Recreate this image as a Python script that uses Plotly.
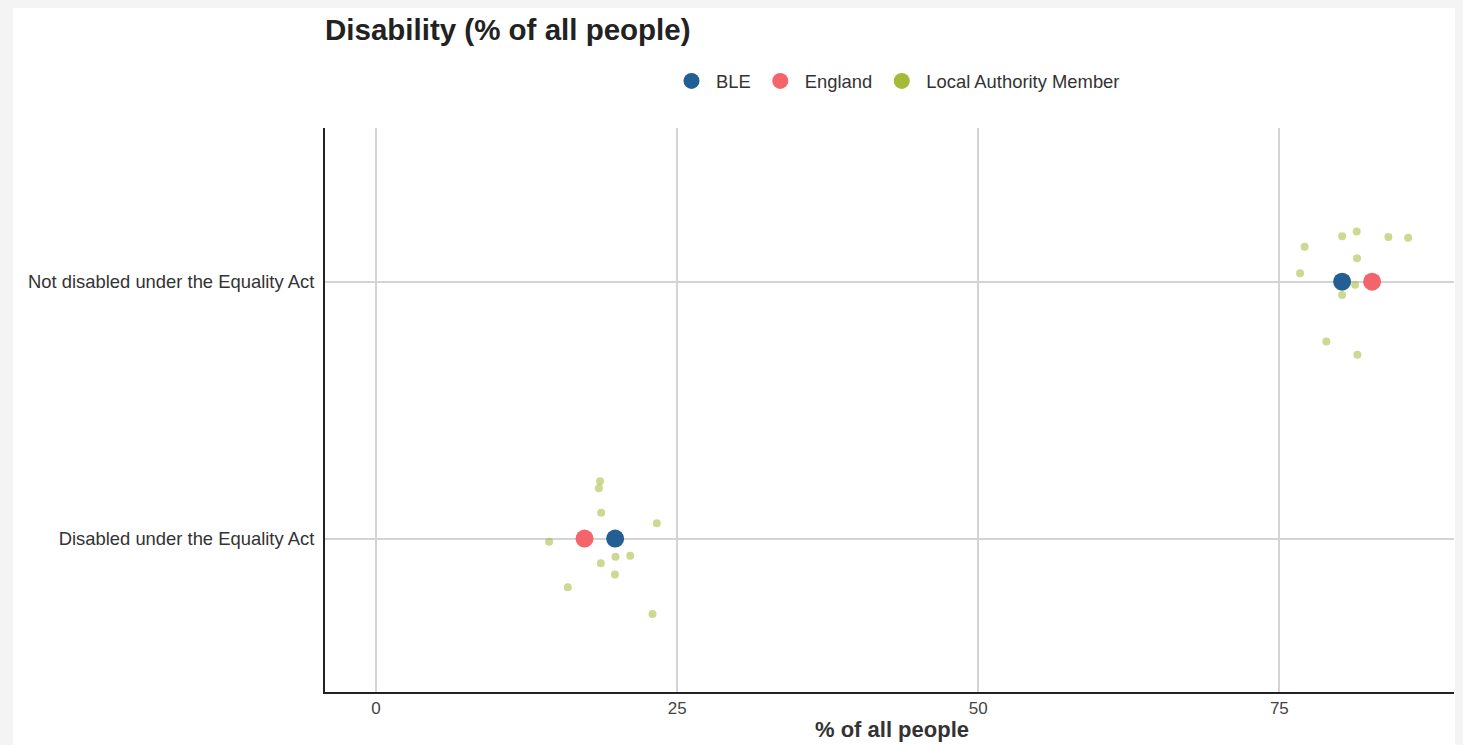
import plotly.graph_objects as go

# Categories (y positions 0 and 1)
categories = ["Disabled under the Equality Act", "Not disabled under the Equality Act"]

# BLE and England values (% of all people), per category
ble_values = [19.85, 80.21]
england_values = [17.31, 82.70]

# Local authority members: values and vertical jitter
la_disabled = [18.60, 18.50, 18.69, 23.31, 14.37, 19.88, 21.10, 18.66, 19.83, 15.92, 22.95]
la_disabled_jitter = [0.223, 0.196, 0.101, 0.060, -0.012, -0.071, -0.067, -0.096, -0.140, -0.189, -0.293]
la_not_disabled = [77.10, 80.21, 81.42, 84.05, 85.69, 81.45, 76.72, 81.29, 80.21, 78.90, 81.48]
la_not_disabled_jitter = [0.136, 0.177, 0.195, 0.174, 0.171, 0.091, 0.033, -0.012, -0.052, -0.233, -0.284]

x_ticks = [0, 25, 50, 75]

BLUE = "#245f93"
RED = "#f4646b"
GREEN = "#a4ba38"

la_x = la_disabled + la_not_disabled
la_y = [0 + j for j in la_disabled_jitter] + [1 + j for j in la_not_disabled_jitter]

W, H = 1447, 737
L, R, T, B = 317, 1, 120, 53
PW, PH = W - L - R, H - T - B

fig = go.Figure()
fig.add_trace(go.Scatter(
    x=la_x, y=la_y, mode="markers", name="Local Authority Member",
    marker=dict(color=GREEN, size=8, opacity=0.55), showlegend=False,
))
fig.add_trace(go.Scatter(
    x=ble_values, y=[0, 1], mode="markers", name="BLE",
    marker=dict(color=BLUE, size=18), legendrank=1,
))
fig.add_trace(go.Scatter(
    x=england_values, y=[0, 1], mode="markers", name="England",
    marker=dict(color=RED, size=18), legendrank=2,
))
# legend-only entry with full-opacity marker
fig.add_trace(go.Scatter(
    x=[None], y=[None], mode="markers", name="Local Authority Member",
    marker=dict(color=GREEN, size=18), legendrank=3,
))

fig.update_layout(
    width=W, height=H,
    margin=dict(l=L, r=R, t=T, b=B),
    paper_bgcolor="#f4f4f4",
    plot_bgcolor="white",
    font=dict(family="Arial, Liberation Sans, sans-serif", color="#333333", size=18.4),
    title=dict(
        text="<b>Disability (% of all people)</b>",
        font=dict(size=29.5, color="#222222"),
        xref="paper", x=0, xanchor="left",
        yref="container", y=1 - 22 / H, yanchor="middle",
    ),
    legend=dict(
        orientation="h", xref="paper", x=(888 - L) / PW, xanchor="center",
        yref="container", y=1 - 73 / H, yanchor="middle",
        font=dict(size=18.4, color="#333333"), bgcolor="rgba(0,0,0,0)",
        traceorder="normal", itemwidth=39,
    ),
    shapes=[dict(
        type="rect", xref="paper", yref="paper", layer="below",
        x0=(5 - L) / PW, x1=1.1, y0=-0.2, y1=(T + PH) / PH,
        fillcolor="white", line=dict(width=0),
    )],
    annotations=[dict(
        text="<b>% of all people</b>", xref="paper", yref="paper",
        x=(884 - L) / PW, y=0, xanchor="center", yanchor="middle", yshift=-37,
        showarrow=False, font=dict(size=22, color="#333333"),
    )],
    showlegend=True,
)

fig.update_xaxes(
    range=[-4.24, 89.5], tickvals=x_ticks, ticktext=[str(t) for t in x_ticks],
    showgrid=True, gridcolor="#d4d4d4", gridwidth=1.5, zeroline=False,
    showline=True, linecolor="#222222", linewidth=2, automargin=False,
    tickfont=dict(size=17, color="#444444"),
)
fig.update_yaxes(
    range=[-0.597, 1.598], tickvals=[0, 1], ticktext=categories,
    showgrid=True, gridcolor="#d4d4d4", gridwidth=1.5, zeroline=False,
    showline=True, linecolor="#222222", linewidth=2, automargin=False,
    ticks="outside", ticklen=5, tickcolor="rgba(0,0,0,0)",
    tickfont=dict(size=18.4, color="#333333"),
)

fig.write_html("out.html", post_script="document.body.style.background='#f4f4f4';")
